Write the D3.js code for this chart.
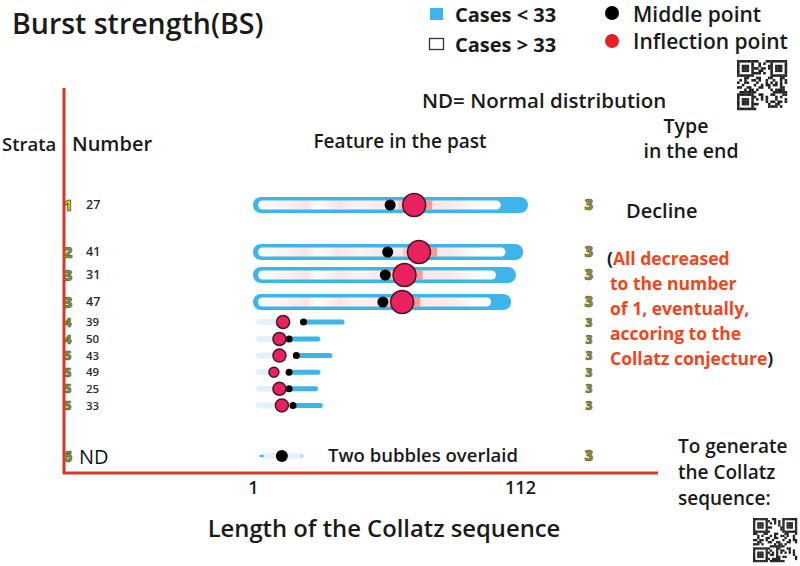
<!DOCTYPE html>
<html><head><meta charset="utf-8">
<script src="https://cdn.jsdelivr.net/npm/d3@7"></script>
<style>body{margin:0;background:#fff}svg{display:block}text{font-family:"Open Sans",sans-serif}</style>
</head><body><svg id="c" width="800" height="566"></svg>
<script>
// ---- data ----
const numbers    = ["27","41","31","47","39","50","43","49","25","33"];
const strata     = ["1","2","3","3","4","4","5","5","5","5"];
const endType    = ["3","3","3","3","3","3","3","3","3","3"];
const barEnd     = [112,110,107,105,38,28,33,28,27,29];   // end of the bar (sequence length)
const innerEnd   = [104,106,102,100,null,null,null,null,null,null]; // end of the "cases > 33" part
const middle     = [58,57,56,55,22,16,19,16,16,17.6];
const inflection = [68,70,64,63,13.5,12,12,9.7,12,13];
const ndMiddle = 13, ndRange = [5,21];
const xTicks = [1,112];

const rows = numbers.map((n,i)=>({n, s:strata[i], t:endType[i], end:barEnd[i], inner:innerEnd[i], mid:middle[i], inf:inflection[i], big: innerEnd[i]!=null}));

const svg = d3.select("#c");
const x = d3.scaleLinear().domain([1,112]).range([253,520]);
const y = d3.scaleOrdinal().domain(numbers.concat(["ND"])).range([205,252,275,302,322,339,355.6,372.2,388.8,405.4,456]);

const blue="#3db5e8", axisRed="#d8362a", olive="#8a8a3a", pink="#e8215f", ink="#1a1a1a";

const defs = svg.append("defs");
const g = defs.append("linearGradient").attr("id","heat").attr("gradientUnits","userSpaceOnUse")
  .attr("x1",x(1)).attr("x2",x(112));
[[0,"#fff"],[0.12,"#fbf3f3"],[0.2,"#fbe4e4"],[0.24,"#fff"],[0.32,"#fce6e6"],[0.4,"#fdf2f2"],[0.5,"#fbe8e8"],[0.62,"#fde9e9"],[0.75,"#fbeaea"],[0.85,"#fff"],[1,"#fff"]]
  .forEach(([o,c])=>g.append("stop").attr("offset",o).attr("stop-color",c));

function txt(xp,yp,s,size,weight,anchor){
  return svg.append("text").attr("x",xp).attr("y",yp).attr("font-size",size).attr("font-weight",weight||600)
    .attr("fill",ink).attr("text-anchor",anchor||"start").text(s);
}

// ---- title & legend ----
txt(12,34,"Burst strength(BS)",28.5,600);
svg.append("rect").attr("x",430).attr("y",8).attr("width",13).attr("height",12).attr("fill",blue);
svg.append("rect").attr("x",429.5).attr("y",38.5).attr("width",14).attr("height",11).attr("fill","#fff").attr("stroke","#333").attr("stroke-width",1.3);
txt(455,22,"Cases < 33",20,700);
txt(455,52,"Cases > 33",20,700);
svg.append("circle").attr("cx",612).attr("cy",13).attr("r",7).attr("fill","#000");
svg.append("circle").attr("cx",612).attr("cy",41).attr("r",7).attr("fill","#e82025");
txt(633,22,"Middle point",21,600);
txt(633,49,"Inflection point",21,600);
txt(422,108,"ND= Normal distribution",20.5,600);

// QR-like decorations
function qr(x0,y0,size,seed){
  const n=21, c=size/n, gq=svg.append("g");
  gq.append("rect").attr("x",x0).attr("y",y0).attr("width",size).attr("height",size).attr("fill","#fff");
  for(let i=0;i<n;i++)for(let j=0;j<n;j++){
    const f=(a,b)=>a<7&&b<7;
    let on;
    if(f(i,j)||f(n-1-i,j)||f(i,n-1-j)){
      const a=i<7?i:n-1-i, b=j<7?j:n-1-j;
      on = (a===0||a===6||b===0||b===6)||(a>=2&&a<=4&&b>=2&&b<=4);
    } else on = ((i*31+j*17+seed+(i*j)%7)%5)<2;
    if(on) gq.append("rect").attr("x",x0+i*c).attr("y",y0+j*c).attr("width",c+0.2).attr("height",c+0.2).attr("fill","#222");
  }
}
qr(737,60,50,3);
qr(753,518,44,11);

// ---- headers ----
txt(2,151,"Strata",18.5,600);
txt(72,151,"Number",20,600);
txt(400,148,"Feature in the past",19,600,"middle");
txt(686,133,"Type",19.5,600,"middle");
txt(691,158,"in the end",19.5,600,"middle");

// ---- axes ----
svg.append("line").attr("x1",64).attr("x2",64).attr("y1",88).attr("y2",474).attr("stroke",axisRed).attr("stroke-width",3);
svg.append("line").attr("x1",63).attr("x2",658).attr("y1",473).attr("y2",473).attr("stroke",axisRed).attr("stroke-width",3);
const ax = svg.append("g").attr("transform","translate(0,473)").call(d3.axisBottom(x).tickValues(xTicks).tickSize(0).tickPadding(8).tickFormat(d3.format("d")));
ax.select(".domain").remove();
ax.selectAll("text").attr("font-size",18).attr("font-weight",600).attr("fill",ink).style("font-family","Open Sans");
txt(384,537,"Length of the Collatz sequence",23.8,600,"middle");

// ---- rows ----
const big = rows.filter(d=>d.big), small = rows.filter(d=>!d.big);
svg.selectAll(".outer").data(big).join("rect")
  .attr("x",x(1)).attr("y",d=>y(d.n)-8).attr("height",16).attr("rx",8)
  .attr("width",d=>x(d.end)+8-x(1)).attr("fill",blue);
svg.selectAll(".inner").data(big).join("rect")
  .attr("x",x(1)+5).attr("y",d=>y(d.n)-4.5).attr("height",9).attr("rx",4.5)
  .attr("width",d=>x(d.inner)-x(1)-5).attr("fill","url(#heat)");
svg.selectAll(".mark").data(big).join("rect")
  .attr("x",d=>x(d.inf)+12).attr("y",d=>y(d.n)-4.5).attr("width",6).attr("height",9)
  .attr("fill","#ee5a4a").attr("opacity",0.55);
svg.selectAll(".mark2").data(big).join("rect")
  .attr("x",d=>x(d.inf)-16).attr("y",d=>y(d.n)-4.5).attr("width",4).attr("height",9)
  .attr("fill","#f08a80").attr("opacity",0.35);

svg.selectAll(".faint").data(small).join("line")
  .attr("x1",x(1)+6).attr("x2",d=>x(d.inf)).attr("y1",d=>y(d.n)).attr("y2",d=>y(d.n))
  .attr("stroke","#e3f2fa").attr("stroke-width",6).attr("stroke-linecap","round");
svg.selectAll(".sbar").data(small).join("line")
  .attr("x1",d=>x(d.mid)).attr("x2",d=>x(d.end)).attr("y1",d=>y(d.n)).attr("y2",d=>y(d.n))
  .attr("stroke",blue).attr("stroke-width",5).attr("stroke-linecap","round");

svg.selectAll(".midpt").data(rows).join("circle")
  .attr("cx",d=>x(d.mid)).attr("cy",d=>y(d.n)).attr("r",d=>d.big?5.5:3.5).attr("fill","#000");
svg.selectAll(".infpt").data(rows).join("circle")
  .attr("cx",d=>x(d.inf)).attr("cy",d=>y(d.n)).attr("r",d=>d.big?11.5:(d.n==="49"?5:6.5))
  .attr("fill",pink).attr("stroke","#4a1424").attr("stroke-width",1.5);

// ND row
svg.append("line").attr("x1",x(ndRange[0])).attr("x2",x(ndRange[1])).attr("y1",y("ND")).attr("y2",y("ND"))
  .attr("stroke","#e3f2fa").attr("stroke-width",6).attr("stroke-linecap","round");
svg.append("line").attr("x1",x(ndRange[0])-3).attr("x2",x(ndRange[0])+1).attr("y1",y("ND")).attr("y2",y("ND")).attr("stroke",blue).attr("stroke-width",2);
svg.append("line").attr("x1",x(ndRange[1])-1).attr("x2",x(ndRange[1])+2).attr("y1",y("ND")).attr("y2",y("ND")).attr("stroke","#a8d8f0").attr("stroke-width",2);
svg.append("circle").attr("cx",x(ndMiddle)).attr("cy",y("ND")).attr("r",6).attr("fill","#000");
txt(328,462,"Two bubbles overlaid",18.5,600);

// row labels
svg.selectAll(".strata").data(rows).join("text")
  .attr("x",68).attr("y",(d,i)=>y(d.n)+(i<4?6:4.5)).attr("text-anchor","middle").attr("font-size",(d,i)=>i<4?16:12).attr("font-weight",800)
  .attr("fill",(d,i)=>i===0?"#d6c41c":olive).attr("stroke",(d,i)=>i===0?"#222":"#5a5a20").attr("stroke-width",0.6)
  .text(d=>d.s);
svg.append("text").attr("x",68).attr("y",y("ND")+6).attr("text-anchor","middle").attr("font-size",15).attr("font-weight",800)
  .attr("fill",olive).attr("stroke","#5a5a20").attr("stroke-width",0.6).text("6");
svg.selectAll(".num").data(rows).join("text")
  .attr("x",86).attr("y",d=>y(d.n)+4.2).attr("font-size",(d,i)=>i<4?12.5:11.5).attr("font-weight",600).attr("fill","#2a2a34")
  .text(d=>d.n);
svg.append("text").attr("x",79).attr("y",y("ND")+8).attr("font-size",20).attr("font-weight",500).attr("fill","#111").text("ND");

svg.selectAll(".etype").data(rows).join("text")
  .attr("x",589).attr("y",(d,i)=>y(d.n)+(i<4?5:4.5)).attr("text-anchor","middle").attr("font-size",(d,i)=>i<4?15:12).attr("font-weight",800)
  .attr("fill",olive).attr("stroke","#55552a").attr("stroke-width",0.5).text(d=>d.t);
svg.append("text").attr("x",589).attr("y",y("ND")+5).attr("text-anchor","middle").attr("font-size",15).attr("font-weight",800)
  .attr("fill",olive).attr("stroke","#55552a").attr("stroke-width",0.5).text("3");

// right annotations
txt(626,218,"Decline",20,600);
const note = ["All decreased","to the number","of 1, eventually,","accoring to the","Collatz conjecture"];
const nt = svg.append("text").attr("font-size",17.5).attr("font-weight",700).attr("fill","#f0461e");
note.forEach((s,i)=>{
  const t = nt.append("tspan").attr("x",i===0?607:610).attr("y",265+i*25);
  if(i===0) t.append("tspan").attr("fill","#1a1a2a").text("(");
  t.append("tspan").text(s);
  if(i===note.length-1) t.append("tspan").attr("fill","#1a1a2a").text(")");
});
["To generate","the Collatz","sequence:"].forEach((s,i)=> txt(678,453+i*26,s,19,600));
</script></body></html>
